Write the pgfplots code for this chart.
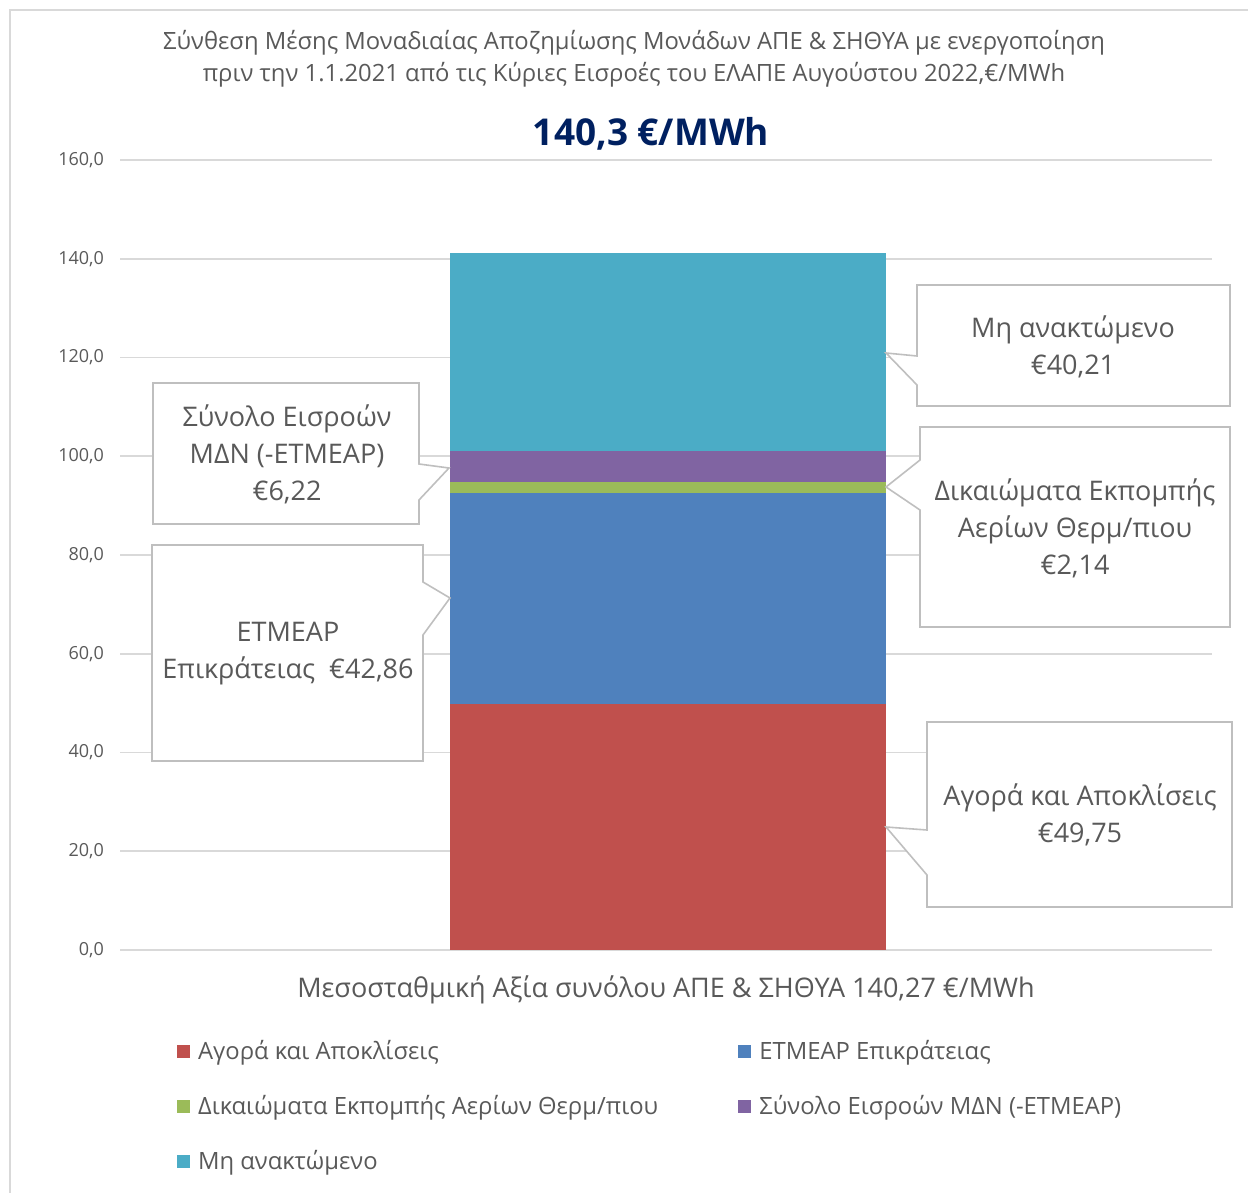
\documentclass[border=0pt]{standalone}
\usepackage{fontspec}
\setmainfont{Open Sans}
\usepackage{pgfplots}
\pgfplotsset{compat=1.18}
\definecolor{cRed}{HTML}{C0504D}
\definecolor{cBlue}{HTML}{4F81BD}
\definecolor{cGreen}{HTML}{9BBB59}
\definecolor{cPurple}{HTML}{8064A2}
\definecolor{cTeal}{HTML}{4BACC6}
\definecolor{txtgray}{HTML}{595959}
\definecolor{gridgray}{HTML}{D9D9D9}
\definecolor{boxgray}{HTML}{BFBFBF}
\definecolor{navy}{HTML}{002060}
\pgfplotsset{lg/.style={legend image code/.code={\fill[##1] (0pt,-3.3pt) rectangle (6.6pt,3.3pt); \path (8.6pt,0pt);}}}
\begin{document}
\begin{tikzpicture}
\begin{scope}[x=0.5pt,y=-0.5pt]
\useasboundingbox (0,0) rectangle (1248,1193);
\draw[gridgray, line width=1pt] (10,1210) -- (10,10) -- (1260,10);
\end{scope}
\begin{axis}[
  at={(60pt,-475pt)}, anchor=south west,
  scale only axis, width=546pt, height=395pt,
  xmin=120, xmax=1212, ymin=0, ymax=160,
  ytick={0,20,...,160}, xtick=\empty,
  ymajorgrids, major grid style={color=gridgray, line width=0.8pt},
  axis line style={draw=none}, tick style={draw=none},
  ybar stacked, bar width=436,
  yticklabel style={font=\fontsize{9}{10}\selectfont, text=txtgray, anchor=east, xshift=-4.5pt},
  /pgf/number format/.cd, fixed, fixed zerofill, precision=1, use comma, assume math mode=true,
  /pgfplots/.cd,
  xlabel={Μεσοσταθμική Αξία συνόλου ΑΠΕ \& ΣΗΘΥΑ 140,27 €/MWh},
  xlabel style={font=\fontsize{13.5}{16}\selectfont, text=txtgray, at={(axis description cs:0.5,0)}, anchor=center, yshift=-20pt},
  legend columns=2,
  legend cell align=left,
  legend style={at={(axis description cs:0.0463,-0.1037)}, anchor=north west, draw=none, fill=none,
    font=\fontsize{11.9}{13}\selectfont, text=txtgray, row sep=12.5pt,
    /tikz/every even column/.append style={column sep=38pt}},
]
\addplot[fill=cRed, draw=none, lg] coordinates {(668,49.75)};
\addlegendentry{Αγορά και Αποκλίσεις}
\addplot[fill=cBlue, draw=none, lg] coordinates {(668,42.86)};
\addlegendentry{ΕΤΜΕΑΡ Επικράτειας}
\addplot[fill=cGreen, draw=none, lg] coordinates {(668,2.14)};
\addlegendentry{Δικαιώματα Εκπομπής Αερίων Θερμ/πιου}
\addplot[fill=cPurple, draw=none, lg] coordinates {(668,6.22)};
\addlegendentry{Σύνολο Εισροών ΜΔΝ (-ΕΤΜΕΑΡ)}
\addplot[fill=cTeal, draw=none, lg] coordinates {(668,40.21)};
\addlegendentry{Μη ανακτώμενο}
\end{axis}
\begin{scope}[x=0.5pt,y=-0.5pt]
\node[text=txtgray, font=\fontsize{11.9}{16}\selectfont, align=center] at (634,59)
  {Σύνθεση Μέσης Μοναδιαίας Αποζημίωσης Μονάδων ΑΠΕ \& ΣΗΘΥΑ με ενεργοποίηση\\
   πριν την 1.1.2021 από τις Κύριες Εισροές του ΕΛΑΠΕ Αυγούστου 2022,€/MWh};
\node[text=navy, font=\fontsize{18.5}{20}\selectfont\bfseries] at (651,134) {140,3 €/MWh};
\tikzset{cbox/.style={fill=white, draw=boxgray, line width=0.8pt, line join=miter}}
\tikzset{ctext/.style={text=txtgray, font=\fontsize{13.5}{18.5}\selectfont, align=center}}
% Mh anaktomeno
\filldraw[cbox] (917,285) -- (1230,285) -- (1230,406) -- (917,406) -- (917,385) -- (886,353) -- (917,356) -- cycle;
\node[ctext] at (1073,347) {Μη ανακτώμενο\\€40,21};
% Dikaiomata
\filldraw[cbox] (920,427) -- (1230,427) -- (1230,627) -- (920,627) -- (920,510) -- (886,487) -- (920,460) -- cycle;
\node[ctext] at (1075,528) {Δικαιώματα Εκπομπής\\Αερίων Θερμ/πιου\\€2,14};
% Agora
\filldraw[cbox] (927,722) -- (1232,722) -- (1232,907) -- (927,907) -- (927,875) -- (886,827) -- (927,830) -- cycle;
\node[ctext] at (1080,815) {Αγορά και Αποκλίσεις\\€49,75};
% ETMEAR
\filldraw[cbox] (152,545) -- (423,545) -- (423,582) -- (450,598) -- (423,635) -- (423,761) -- (152,761) -- cycle;
\node[ctext] at (288,654) {ΕΤΜΕΑΡ\\Επικράτειας\ \ €42,86};
% Synolo
\filldraw[cbox] (153,383) -- (419,383) -- (419,464) -- (449,468) -- (419,500) -- (419,524) -- (153,524) -- cycle;
\node[ctext] at (287,454) {Σύνολο Εισροών\\ΜΔΝ (-ΕΤΜΕΑΡ)\\€6,22};
\end{scope}
\end{tikzpicture}
\end{document}
